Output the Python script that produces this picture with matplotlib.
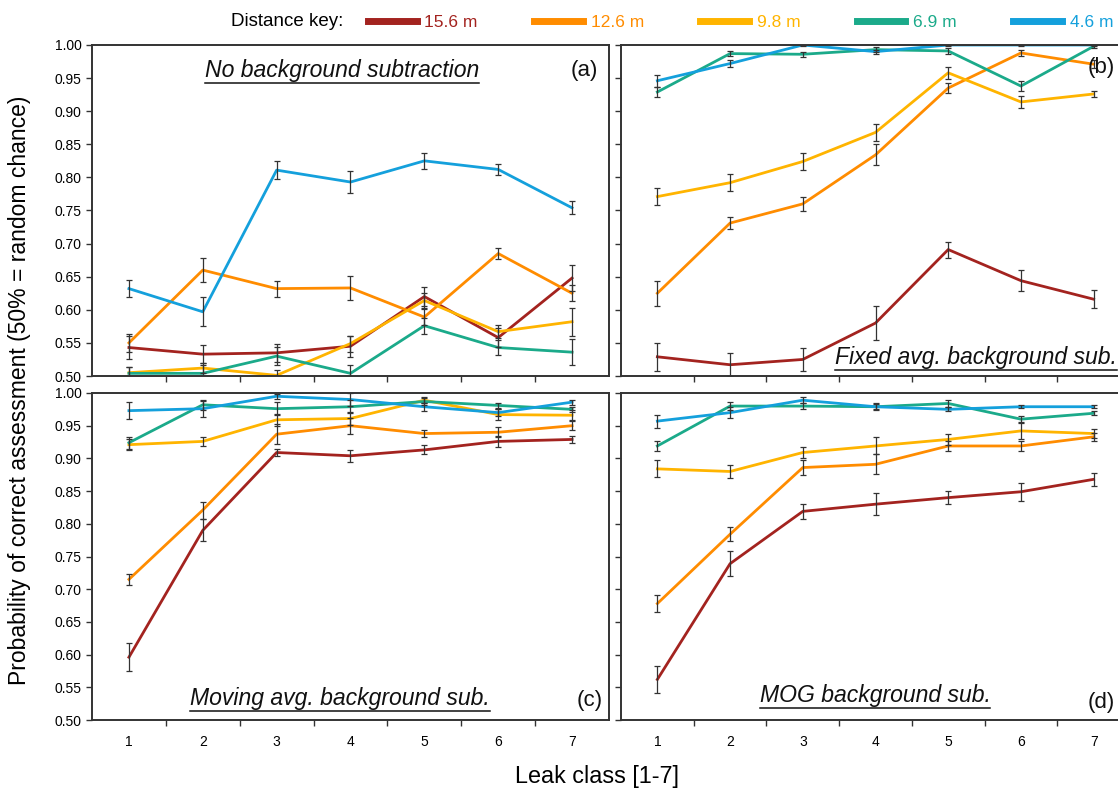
import matplotlib
matplotlib.use("Agg")
import matplotlib.pyplot as plt
from matplotlib.lines import Line2D
import numpy as np

plt.rcParams["font.family"] = ["Liberation Sans", "DejaVu Sans"]

leak_class = [1, 2, 3, 4, 5, 6, 7]
distances = ["15.6 m", "12.6 m", "9.8 m", "6.9 m", "4.6 m"]
colors = ["#a3231f", "#ff8c00", "#ffb400", "#1baa8a", "#14a0dc"]

# (a) no background subtraction
a_vals = [
    [0.543, 0.533, 0.535, 0.545, 0.620, 0.558, 0.648],
    [0.550, 0.660, 0.632, 0.633, 0.589, 0.685, 0.625],
    [0.505, 0.512, 0.501, 0.549, 0.614, 0.567, 0.582],
    [0.504, 0.504, 0.530, 0.504, 0.576, 0.543, 0.536],
    [0.632, 0.597, 0.811, 0.793, 0.825, 0.812, 0.754],
]
a_err = [
    [0.018, 0.014, 0.014, 0.016, 0.014, 0.014, 0.020],
    [0.013, 0.018, 0.012, 0.018, 0.012, 0.009, 0.012],
    [0.008, 0.008, 0.008, 0.012, 0.012, 0.010, 0.021],
    [0.010, 0.012, 0.014, 0.013, 0.012, 0.012, 0.020],
    [0.013, 0.022, 0.014, 0.016, 0.012, 0.008, 0.010],
]

# (b) fixed average background subtraction
b_vals = [
    [0.529, 0.517, 0.525, 0.580, 0.691, 0.644, 0.616],
    [0.625, 0.731, 0.760, 0.834, 0.935, 0.988, 0.971],
    [0.771, 0.792, 0.824, 0.868, 0.958, 0.914, 0.926],
    [0.929, 0.987, 0.986, 0.993, 0.991, 0.938, 0.998],
    [0.946, 0.972, 1.000, 0.990, 1.000, 1.000, 1.000],
]
b_err = [
    [0.021, 0.017, 0.017, 0.025, 0.012, 0.016, 0.014],
    [0.019, 0.009, 0.010, 0.016, 0.008, 0.004, 0.006],
    [0.013, 0.013, 0.013, 0.013, 0.009, 0.009, 0.005],
    [0.008, 0.004, 0.004, 0.004, 0.004, 0.007, 0.002],
    [0.009, 0.005, 0.002, 0.003, 0.002, 0.001, 0.001],
]

# (c) moving average background subtraction
c_vals = [
    [0.596, 0.790, 0.909, 0.904, 0.913, 0.926, 0.929],
    [0.715, 0.821, 0.937, 0.950, 0.938, 0.940, 0.950],
    [0.921, 0.926, 0.959, 0.961, 0.989, 0.967, 0.966],
    [0.924, 0.982, 0.976, 0.979, 0.987, 0.981, 0.975],
    [0.973, 0.976, 0.995, 0.990, 0.979, 0.970, 0.986],
]
c_err = [
    [0.021, 0.017, 0.006, 0.009, 0.007, 0.008, 0.006],
    [0.008, 0.013, 0.015, 0.012, 0.005, 0.008, 0.007],
    [0.008, 0.007, 0.009, 0.010, 0.005, 0.009, 0.008],
    [0.009, 0.008, 0.010, 0.010, 0.005, 0.004, 0.004],
    [0.013, 0.012, 0.004, 0.010, 0.006, 0.005, 0.004],
]

# (d) MOG background subtraction
d_vals = [
    [0.562, 0.739, 0.819, 0.830, 0.840, 0.849, 0.868],
    [0.678, 0.784, 0.886, 0.891, 0.919, 0.919, 0.933],
    [0.884, 0.880, 0.909, 0.919, 0.929, 0.942, 0.938],
    [0.919, 0.980, 0.980, 0.979, 0.984, 0.960, 0.969],
    [0.957, 0.970, 0.989, 0.979, 0.975, 0.979, 0.979],
]
d_err = [
    [0.021, 0.019, 0.012, 0.017, 0.010, 0.014, 0.010],
    [0.013, 0.011, 0.012, 0.015, 0.007, 0.007, 0.006],
    [0.013, 0.010, 0.009, 0.013, 0.008, 0.012, 0.007],
    [0.008, 0.006, 0.004, 0.004, 0.006, 0.005, 0.003],
    [0.010, 0.008, 0.005, 0.005, 0.003, 0.002, 0.002],
]

panels = [
    ("No background subtraction", "(a)", a_vals, a_err),
    ("Fixed avg. background sub.", "(b)", b_vals, b_err),
    ("Moving avg. background sub.", "(c)", c_vals, c_err),
    ("MOG background sub.", "(d)", d_vals, d_err),
]

W, H = 1118, 793
fig = plt.figure(figsize=(W / 100, H / 100), dpi=100)

# axes rectangles in pixels (left, top, width, height)
rects = [(92, 45, 517, 331), (621, 45, 509, 331),
         (92, 393, 517, 327), (621, 393, 509, 327)]
# title / panel-letter placement in axes fraction
title_pos = [(0.484, 0.924, "center"), (0.42, 0.056, "left"),
             (0.48, 0.067, "center"), (0.499, 0.076, "center")]
letter_pos = [(0.953, 0.924), (0.943, 0.931), (0.963, 0.061), (0.943, 0.052)]

axes = []
for i, (title, letter, vals, errs) in enumerate(panels):
    l, t, w, h = rects[i]
    ax = fig.add_axes([l / W, 1 - (t + h) / H, w / W, h / H])
    axes.append(ax)
    for k in range(len(distances)):
        ax.plot(leak_class, vals[k], color=colors[k], lw=2, zorder=2)
        ax.errorbar(leak_class, vals[k], yerr=errs[k], fmt="none",
                    ecolor="#333333", elinewidth=0.9, capsize=2.5,
                    capthick=0.9, zorder=3)
    ax.set_xlim(0.5, 7.5)
    ax.set_ylim(0.5, 1.0)
    ax.set_xticks(np.arange(1.5, 7.5, 1.0))
    ax.set_xticklabels([])
    ax.set_xticks(leak_class, minor=True)
    ax.set_yticks(np.arange(0.5, 1.0001, 0.05))
    if i % 2 == 0:
        ax.set_yticklabels([f"{v:.2f}" for v in np.arange(0.5, 1.0001, 0.05)])
    else:
        ax.set_yticklabels([])
    if i >= 2:
        ax.set_xticklabels([str(c) for c in leak_class], minor=True)
    else:
        ax.set_xticklabels([], minor=True)
    ax.tick_params(axis="both", which="major", direction="out", length=4,
                   width=1, color="#333333", labelsize=10)
    ax.tick_params(axis="x", which="minor", length=0, labelsize=10, pad=11)
    for s in ax.spines.values():
        s.set_color("#333333")
        s.set_linewidth(1.4)
    tx, ty, ha = title_pos[i]
    ax.text(tx, ty, title, transform=ax.transAxes, ha=ha, va="center",
            fontsize=16.6, style="italic", color="#111111", clip_on=False)
    lx, ly = letter_pos[i]
    ax.text(lx, ly, letter, transform=ax.transAxes, ha="center", va="center",
            fontsize=16, color="#111111")

# underline the panel titles
fig.canvas.draw()
renderer = fig.canvas.get_renderer()
for ax in axes:
    txt = ax.texts[0]
    bb = txt.get_window_extent(renderer)
    y = (bb.y0 - 1) / H
    fig.add_artist(Line2D([bb.x0 / W, bb.x1 / W], [y, y], color="#111111", lw=1.1))

# distance key
fig.text(343 / W, 1 - 22 / H, "Distance key:", ha="right", va="center", fontsize=13.5)
handles = [Line2D([], [], color=c, lw=5) for c in colors]
leg = fig.legend(handles, distances, loc="center left", ncol=5, frameon=False,
                 bbox_to_anchor=(368 / W, 1 - 22 / H), fontsize=12.5,
                 handlelength=2.8, handletextpad=0.45, columnspacing=3.25,
                 labelcolor="linecolor", borderaxespad=0, borderpad=0)

fig.text(20 / W, 1 - 390 / H, "Probability of correct assessment (50% = random chance)",
         rotation=90, ha="center", va="center", fontsize=16.5)
fig.text(597 / W, 1 - 776 / H, "Leak class [1-7]", ha="center", va="center", fontsize=16.8)

fig.savefig("out.png", dpi=100)
